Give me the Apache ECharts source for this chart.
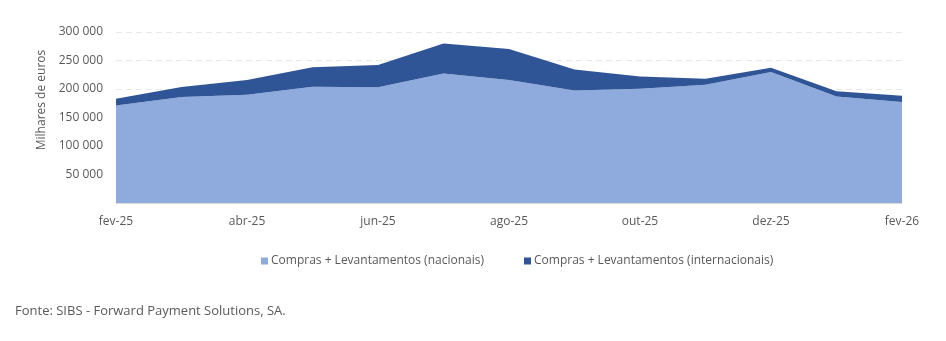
<!DOCTYPE html>
<html><head><meta charset="utf-8">
<script src="https://cdn.jsdelivr.net/npm/echarts@6/dist/echarts.min.js"></script>
<style>html,body{margin:0;padding:0;background:#fff}#c{width:946px;height:341px}</style>
</head><body><div id="c"></div>
<script>
const categories = ['fev-25','mar-25','abr-25','mai-25','jun-25','jul-25','ago-25','set-25','out-25','nov-25','dez-25','jan-26','fev-26'];
const nacionais = [171000,186000,190000,204000,203000,227000,216000,197500,200500,207500,230000,187000,177000];
const internacionais = [12000,17500,25700,34000,39000,53000,54000,36500,21500,10500,7500,9000,11000];
const seriesNames = ['Compras + Levantamentos (nacionais)','Compras + Levantamentos (internacionais)'];
const yTicks = [0,50000,100000,150000,200000,250000,300000];
const FONT = '"Open Sans", "Noto Sans", sans-serif';
const chart = echarts.init(document.getElementById('c'));
chart.setOption({
  animation:false,
  textStyle:{fontFamily:FONT},
  grid:{left:116,right:44,top:32,bottom:138},
  legend:{
    left:256, top:250, itemWidth:7, itemHeight:7, itemGap:40, icon:'rect',
    textStyle:{color:'#595959',fontSize:12,fontFamily:FONT,padding:[0,0,0,-2]},
    data:seriesNames
  },
  xAxis:{
    type:'category', boundaryGap:false, data:categories,
    axisLine:{show:true,lineStyle:{color:'#d9d9d9'}},
    axisTick:{show:false},
    axisLabel:{interval:1,color:'#595959',fontSize:12,margin:13,fontFamily:FONT},
    splitLine:{show:false}
  },
  yAxis:{
    type:'value', min:yTicks[0], max:yTicks[yTicks.length-1], interval:50000,
    axisLine:{show:false}, axisTick:{show:false},
    axisLabel:{color:'#595959',fontSize:12,margin:13,fontFamily:FONT,
      formatter:v=> v===0 ? '' : String(v).replace(/\B(?=(\d{3})+(?!\d))/g,' ')},
    splitLine:{show:true,lineStyle:{color:'#e8e8e8',type:[6,4],width:1}}
  },
  graphic:[
    {type:'text',left:15,top:305,style:{text:'Fonte: SIBS - Forward Payment Solutions, SA.',fill:'#595959',font:'13px '+FONT}},
    {type:'text',x:42,y:100,rotation:Math.PI/2,style:{text:'Milhares de euros',fill:'#595959',font:'12px '+FONT,align:'center',verticalAlign:'middle'}}
  ],
  series:[
    {name:seriesNames[0],type:'line',stack:'t',data:nacionais,showSymbol:false,symbol:'none',
     lineStyle:{width:0},itemStyle:{color:'#8faadc'},areaStyle:{color:'#8faadc',opacity:1}},
    {name:seriesNames[1],type:'line',stack:'t',data:internacionais,showSymbol:false,symbol:'none',
     lineStyle:{width:0},itemStyle:{color:'#2f5597'},areaStyle:{color:'#2f5597',opacity:1}}
  ]
});
</script></body></html>
